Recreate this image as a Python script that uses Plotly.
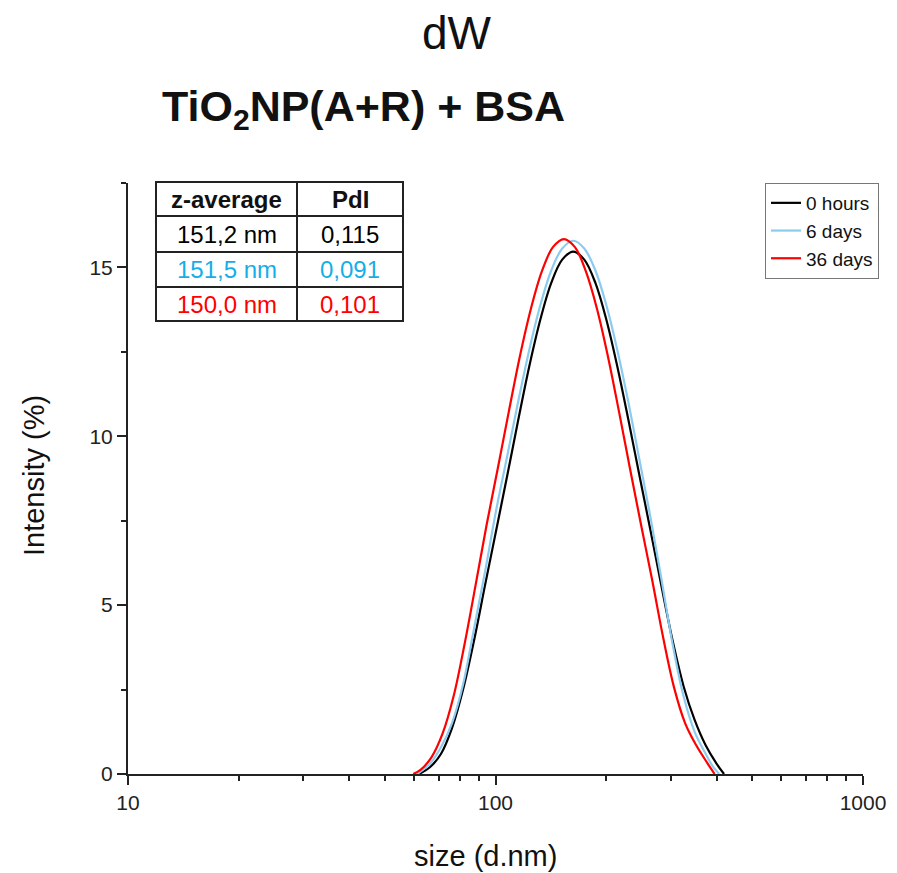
import plotly.graph_objects as go

# ---------------- data ----------------
size_0h = [61.9, 66.3, 71.1, 76.1, 81.6, 87.4, 93.7, 100.4, 107.6, 115.3, 123.5, 132.4, 141.8,
           151.9, 162.8, 174.4, 187.0, 200.3, 214.6, 230.0, 246.5, 264.1, 283.0, 303.3,
           324.9, 348.2, 373.1, 399.8, 418.7]
int_0h = [0, 0.2, 0.6, 1.35, 2.5, 3.95, 5.6, 7.21, 8.83, 10.48, 12.06, 13.45, 14.54,
          15.23, 15.47, 15.23, 14.54, 13.45, 12.06, 10.48, 8.83, 7.21, 5.55, 3.95,
          2.6, 1.6, 0.85, 0.3, 0]

size_6d = [61.2, 66.3, 71.1, 76.1, 81.6, 87.4, 93.7, 100.4, 107.6, 115.3, 123.5, 132.4, 141.8,
           151.9, 162.8, 174.4, 187.0, 200.3, 214.6, 230.0, 246.5, 264.1, 283.0, 303.3,
           324.9, 348.2, 373.1, 390.6, 406.2]
int_6d = [0, 0.3, 0.8, 1.5, 2.65, 4.3, 6.0, 7.81, 9.41, 11.03, 12.55, 13.88, 14.91,
          15.56, 15.79, 15.56, 14.91, 13.88, 12.55, 11.0, 9.3, 7.6, 5.75, 3.85,
          2.3, 1.25, 0.6, 0.22, 0]

size_36d = [59.7, 62.5, 67.0, 71.8, 76.9, 82.4, 88.3, 94.6, 101.4, 108.7, 116.4, 124.8, 133.7,
            143.3, 153.5, 164.5, 176.2, 188.9, 202.4, 216.8, 232.3, 248.9, 266.8, 285.8,
            306.3, 328.2, 351.7, 376.8, 394.6]
int_36d = [0, 0.12, 0.5, 1.2, 2.3, 3.85, 5.6, 7.38, 9.04, 10.73, 12.35, 13.77, 14.88,
           15.6, 15.84, 15.6, 14.88, 13.77, 12.35, 10.73, 9.04, 7.38, 5.75, 4.05,
           2.55, 1.5, 0.85, 0.33, 0]

series_names = ["0 hours", "6 days", "36 days"]
series_colors = ["#000000", "#8ccbf0", "#ff0000"]

table_header = ["z-average", "PdI"]
table_zavg = ["151,2 nm", "151,5 nm", "150,0 nm"]
table_pdi = ["0,115", "0,091", "0,101"]
table_colors = ["#000000", "#16aee8", "#ff0000"]

y_ticks = [0, 5, 10, 15]
x_ticks = [10, 100, 1000]

# ---------------- figure ----------------
W, H = 897, 873
L, R, T, B = 128, 34, 183, 99
pw, ph = W - L - R, H - T - B


def px_x(px):
    return (px - L) / pw


def px_y(py):
    return (H - B - py) / ph


fig = go.Figure()
for xs, ys, name, col in zip([size_0h, size_6d, size_36d], [int_0h, int_6d, int_36d],
                             series_names, series_colors):
    fig.add_trace(go.Scatter(x=xs, y=ys, mode="lines", name=name,
                             line=dict(color=col, width=2.2, shape="spline", smoothing=1.0)))

font_family = "Liberation Sans, Arial, sans-serif"

fig.update_layout(
    width=W, height=H,
    margin=dict(l=L, r=R, t=T, b=B),
    plot_bgcolor="white", paper_bgcolor="white",
    font=dict(family=font_family, color="#111111"),
    showlegend=True,
    legend=dict(x=px_x(765), y=px_y(183), xanchor="left", yanchor="top",
                bordercolor="#777777", borderwidth=1, bgcolor="white",
                font=dict(size=19, color="#111111"), tracegroupgap=0,
                itemwidth=30),
)

fig.update_xaxes(
    type="log", range=[1, 3],
    tickvals=x_ticks, ticktext=[str(v) for v in x_ticks],
    ticks="outside", ticklen=9, tickwidth=2, tickcolor="#222222",
    tickfont=dict(size=21, color="#222222"),
    showline=True, linecolor="#222222", linewidth=2, mirror=False,
    showgrid=False, zeroline=False,
    minor=dict(ticks="outside", ticklen=5, tickwidth=1.5, tickcolor="#222222",
               dtick="D1", showgrid=False),
)
fig.update_yaxes(
    range=[0, 17.5],
    tickvals=y_ticks,
    ticks="outside", ticklen=9, tickwidth=2, tickcolor="#222222",
    tickfont=dict(size=21, color="#222222"),
    showline=True, linecolor="#222222", linewidth=2,
    showgrid=False, zeroline=False,
    minor=dict(ticks="outside", ticklen=5, tickwidth=1.5, tickcolor="#222222",
               tick0=0, dtick=2.5, showgrid=False),
)

annotations = []
# main title
annotations.append(dict(text="dW", x=px_x(457), y=px_y(33), xref="paper", yref="paper",
                        xanchor="center", yanchor="middle", showarrow=False,
                        font=dict(size=46, color="#111111")))
# subtitle
annotations.append(dict(text="<b>TiO<sub>2</sub>NP(A+R) + BSA</b>",
                        x=px_x(160), y=px_y(109), xref="paper", yref="paper",
                        xanchor="left", yanchor="middle", showarrow=False,
                        font=dict(size=43, color="#111111")))
# axis titles
annotations.append(dict(text="size (d.nm)", x=px_x(485), y=px_y(856), xref="paper",
                        yref="paper", xanchor="center", yanchor="middle", showarrow=False,
                        font=dict(size=29, color="#111111")))
annotations.append(dict(text="Intensity (%)", x=px_x(34), y=px_y(476), xref="paper",
                        yref="paper", xanchor="center", yanchor="middle", showarrow=False,
                        textangle=-90, font=dict(size=29, color="#111111")))

# table
tl, tm, tr = 156, 297, 403
rows = [182, 216, 252, 287, 321]
shapes = []
shapes.append(dict(type="rect", xref="paper", yref="paper",
                   x0=px_x(tl), x1=px_x(tr), y0=px_y(rows[-1]), y1=px_y(rows[0]),
                   line=dict(color="#222222", width=2), fillcolor="rgba(0,0,0,0)"))
for ry in rows[1:-1]:
    shapes.append(dict(type="line", xref="paper", yref="paper",
                       x0=px_x(tl), x1=px_x(tr), y0=px_y(ry), y1=px_y(ry),
                       line=dict(color="#222222", width=2)))
shapes.append(dict(type="line", xref="paper", yref="paper",
                   x0=px_x(tm), x1=px_x(tm), y0=px_y(rows[-1]), y1=px_y(rows[0]),
                   line=dict(color="#222222", width=2)))

cx1 = px_x((tl + tm) / 2)
cx2 = px_x((tm + tr) / 2)


def ymid(i):
    return px_y((rows[i] + rows[i + 1]) / 2)


annotations.append(dict(text="<b>%s</b>" % table_header[0], x=cx1, y=ymid(0), xref="paper",
                        yref="paper", xanchor="center", yanchor="middle", showarrow=False,
                        font=dict(size=24, color="#111111")))
annotations.append(dict(text="<b>%s</b>" % table_header[1], x=cx2, y=ymid(0), xref="paper",
                        yref="paper", xanchor="center", yanchor="middle", showarrow=False,
                        font=dict(size=24, color="#111111")))
for i, (za, pdi, col) in enumerate(zip(table_zavg, table_pdi, table_colors)):
    annotations.append(dict(text=za, x=cx1, y=ymid(i + 1), xref="paper", yref="paper",
                            xanchor="center", yanchor="middle", showarrow=False,
                            font=dict(size=24, color=col)))
    annotations.append(dict(text=pdi, x=cx2, y=ymid(i + 1), xref="paper", yref="paper",
                            xanchor="center", yanchor="middle", showarrow=False,
                            font=dict(size=24, color=col)))

fig.update_layout(annotations=annotations, shapes=shapes)

fig.write_html("out.html",
               config={"displayModeBar": False},
               post_script="document.body.style.margin='0';document.body.style.overflow='hidden';")
